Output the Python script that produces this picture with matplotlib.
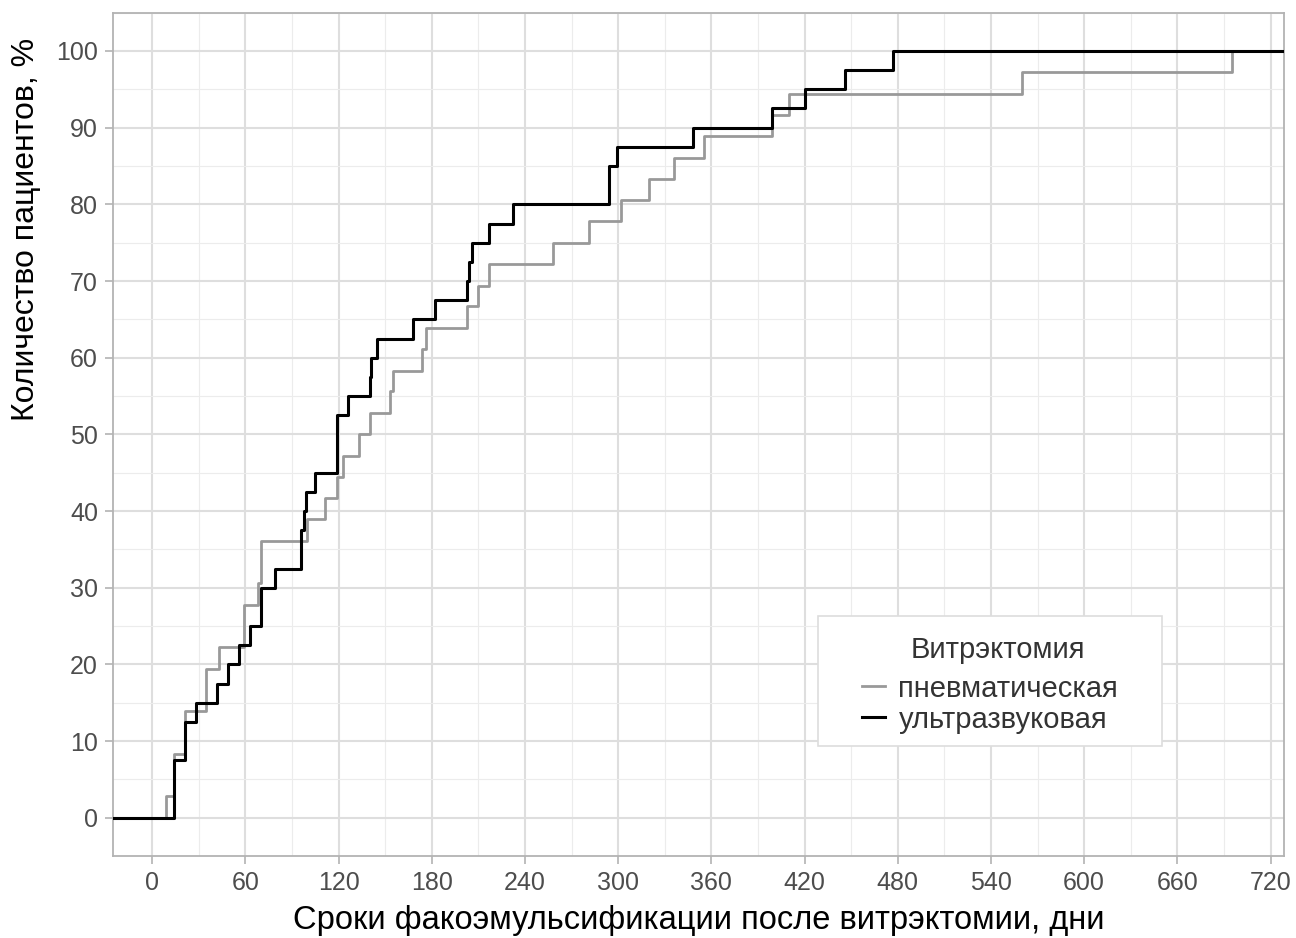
import matplotlib
matplotlib.use("Agg")
import matplotlib.pyplot as plt
from matplotlib.patches import Rectangle
from matplotlib.ticker import MultipleLocator

plt.rcParams["font.family"] = ["Liberation Sans", "DejaVu Sans"]

# cumulative share of patients (%) vs days after vitrectomy
days_pneum = [9, 14, 21, 35, 43, 59, 68, 70, 100, 111, 119, 123, 133, 140, 153, 155,
              174, 176, 203, 210, 217, 258, 281, 302, 320, 336, 355, 399, 410, 560, 695]
pct_pneum = [2.8, 8.3, 13.9, 19.4, 22.2, 27.8, 30.6, 36.1, 38.9, 41.7, 44.4, 47.2, 50.0,
             52.8, 55.6, 58.3, 61.1, 63.9, 66.7, 69.4, 72.2, 75.0, 77.8, 80.6, 83.3, 86.1,
             88.9, 91.7, 94.4, 97.2, 100.0]

days_ultra = [14, 21, 28, 42, 49, 56, 63, 70, 79, 96, 98, 99, 105, 119, 126, 140, 141,
              145, 168, 182, 203, 204, 206, 217, 232, 294, 299, 348, 399, 420, 446, 477]
pct_ultra = [7.5, 12.5, 15, 17.5, 20, 22.5, 25, 30, 32.5, 37.5, 40, 42.5, 45, 52.5, 55,
             57.5, 60, 62.5, 65, 67.5, 70, 72.5, 75, 77.5, 80, 85, 87.5, 90, 92.5, 95,
             97.5, 100]

group_labels = ["пневматическая", "ультразвуковая"]
legend_title = "Витрэктомия"
xticks = list(range(0, 721, 60))
yticks = list(range(0, 101, 10))

X0, X1 = -25, 728.6
Y0, Y1 = -5, 105

fig = plt.figure(figsize=(12.96, 9.38), dpi=100)
ax = fig.add_axes([0.0874, 0.0874, 0.9033, 0.8991])


def stepline(days, pct, **kw):
    xs = [X0] + days + [X1]
    ys = [0] + pct + [pct[-1]]
    ax.step(xs, ys, where="post", **kw)


stepline(days_pneum, pct_pneum, color="#999999", lw=2.0, label=group_labels[0], zorder=3)
stepline(days_ultra, pct_ultra, color="black", lw=2.2, label=group_labels[1], zorder=4)

ax.set_xlim(X0, X1)
ax.set_ylim(Y0, Y1)
ax.set_xticks(xticks)
ax.set_yticks(yticks)
ax.xaxis.set_minor_locator(MultipleLocator(30))
ax.yaxis.set_minor_locator(MultipleLocator(5))

ax.grid(which="major", color="#dedede", lw=1.5)
ax.grid(which="minor", color="#ececec", lw=0.8)
ax.set_axisbelow(True)
for sp in ax.spines.values():
    sp.set_color("#b3b3b3")
    sp.set_linewidth(1.3)

ax.tick_params(which="major", length=6, width=1.2, color="#b3b3b3",
               labelsize=18, labelcolor="#4d4d4d", pad=5)
ax.tick_params(which="minor", length=0)

ax.set_xlabel("Сроки факоэмульсификации после витрэктомии, дни", fontsize=23.5, labelpad=7)
ax.set_ylabel("Количество пациентов, %", fontsize=23, loc="top")
ax.yaxis.set_label_coords(-0.0618, 0.970)

# legend: white box with light border, title and entries drawn inside it
ax.add_patch(Rectangle((0.602, 0.1304), 0.2938, 0.1542, transform=ax.transAxes,
                       facecolor="white", edgecolor="#dddddd", lw=1.2, zorder=5))
ax.text(0.7557, 0.2443, legend_title, transform=ax.transAxes, fontsize=21,
        color="#333333", ha="center", va="center", zorder=6)
leg = ax.legend(loc="upper left", bbox_to_anchor=(0.6395, 0.215), borderaxespad=0,
                borderpad=0, fontsize=21, frameon=False, handlelength=0.8,
                handletextpad=0.45, labelspacing=0.1)
leg.set_zorder(6)
for t in leg.get_texts():
    t.set_color("#333333")

fig.savefig("out.png", dpi=100)
